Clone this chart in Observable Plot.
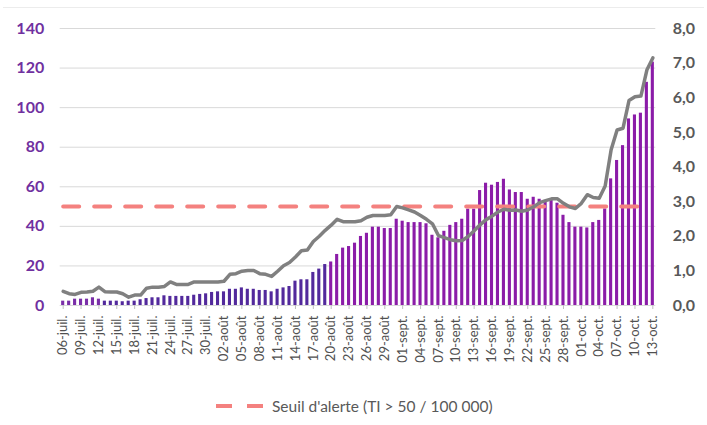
<!DOCTYPE html>
<html><head><meta charset="utf-8">
<script src="https://cdn.jsdelivr.net/npm/d3@7"></script>
<script src="https://cdn.jsdelivr.net/npm/@observablehq/plot@0.6"></script>
<style>
body{margin:0;background:#fff;font-family:Lato,sans-serif}
#wrap{position:relative;width:707px;height:425px;overflow:hidden;background:#fff}
#topline{position:absolute;left:3px;right:3px;top:7px;height:1px;background:#ececec}
#chart{position:absolute;left:0;top:0}
#legend{position:absolute;left:216px;top:396px;height:20px;display:flex;align-items:center;gap:9px;font-family:Lato,sans-serif;font-size:15.5px;color:#595959;white-space:nowrap}
</style></head>
<body><div id="wrap"><div id="topline"></div><div id="chart"></div>
<div id="legend"><svg width="47" height="8"><line x1="0" y1="4" x2="47" y2="4" stroke="#f4817f" stroke-width="4" stroke-dasharray="16,15"/></svg><span>Seuil d'alerte (TI &gt; 50 / 100 000)</span></div>
</div>
<script>
// Categories: one per day, 06-juil. -> 13-oct.
const monthNames = {6: "juil.", 7: "août", 8: "sept.", 9: "oct."};
const days = d3.utcDay.range(new Date(Date.UTC(2020, 6, 6)), new Date(Date.UTC(2020, 9, 14)));
const dayKeys = days.map(d => String(d.getUTCDate()).padStart(2, "0") + "-" + monthNames[d.getUTCMonth()]);

// Shown tick labels (every 3 days)
const tickLabels = ["06-juil.","09-juil.","12-juil.","15-juil.","18-juil.","21-juil.","24-juil.","27-juil.","30-juil.",
  "02-août","05-août","08-août","11-août","14-août","17-août","20-août","23-août","26-août","29-août",
  "01-sept.","04-sept.","07-sept.","10-sept.","13-sept.","16-sept.","19-sept.","22-sept.","25-sept.","28-sept.",
  "01-oct.","04-oct.","07-oct.","10-oct.","13-oct."];

// Bars: incidence rate (left axis)
const incidence = [
  2.2, 2.2, 3.2, 3.2, 3.2, 3.9, 3.2, 2.2, 2.2, 2.2,
  1.9, 2.2, 2.2, 2.9, 3.5, 3.9, 3.9, 4.9, 4.6, 4.6,
  4.6, 4.6, 5.2, 5.6, 5.9, 6.6, 6.9, 6.9, 8.2, 8.2,
  8.9, 8.2, 8.2, 7.6, 7.6, 6.9, 8.2, 8.9, 9.6, 12.3,
  13.0, 13.0, 16.7, 18.4, 20.7, 22.0, 25.8, 29.0, 29.8, 31.5,
  34.9, 36.5, 39.6, 39.6, 38.9, 38.9, 43.6, 42.6, 41.9, 41.9,
  41.9, 41.3, 35.5, 34.2, 37.5, 40.5, 41.9, 43.6, 48.7, 48.7,
  58.1, 61.8, 60.8, 62.2, 63.8, 58.4, 57.1, 57.1, 53.7, 54.7,
  53.7, 53.1, 53.4, 51.7, 45.6, 41.9, 39.6, 39.6, 39.2, 41.9,
  43.0, 48.8, 64.0, 73.3, 80.8, 94.3, 96.3, 97.2, 112.8, 123.0
];

// Line: positivity rate (right axis, 0-8)
const positivity = [
  0.41, 0.34, 0.32, 0.38, 0.39, 0.41, 0.53, 0.40, 0.39, 0.39,
  0.34, 0.24, 0.30, 0.30, 0.50, 0.53, 0.53, 0.55, 0.68, 0.61,
  0.61, 0.61, 0.68, 0.68, 0.68, 0.68, 0.68, 0.70, 0.90, 0.92,
  0.99, 1.01, 1.01, 0.92, 0.90, 0.84, 0.99, 1.15, 1.24, 1.40,
  1.58, 1.60, 1.85, 2.00, 2.17, 2.32, 2.49, 2.42, 2.42, 2.42,
  2.45, 2.55, 2.60, 2.60, 2.60, 2.62, 2.86, 2.82, 2.76, 2.70,
  2.60, 2.49, 2.36, 2.02, 1.96, 1.90, 1.87, 1.88, 1.99, 2.16,
  2.33, 2.48, 2.58, 2.70, 2.78, 2.75, 2.76, 2.72, 2.76, 2.85,
  2.97, 3.03, 3.08, 3.08, 2.95, 2.85, 2.80, 2.95, 3.20, 3.12,
  3.10, 3.45, 4.50, 5.07, 5.12, 5.92, 6.03, 6.05, 6.80, 7.15
];

const threshold = 50;
const thresholdDays = dayKeys.slice(0, 98);
const leftTicks = [0, 20, 40, 60, 80, 100, 120, 140];
const rightTicks = [0, 1, 2, 3, 4, 5, 6, 7, 8];
const RATIO = 140 / 8;

const data = dayKeys.map((day, i) => ({day, i, incidence: incidence[i], positivity: positivity[i]}));
const barColor = i => i < 7 ? "#7a2ea8" : i < 45 ? "#52299c" : "#8b1ca8";

const chart = Plot.plot({
  width: 707, height: 378,
  marginLeft: 59.7, marginRight: 51.7, marginTop: 28, marginBottom: 73,
  style: {fontFamily: "Lato, sans-serif", background: "transparent"},
  x: {type: "band", domain: dayKeys, paddingInner: 0.48, paddingOuter: 0.24, axis: null},
  y: {domain: [0, 140], axis: null},
  marks: [
    Plot.gridY(leftTicks, {stroke: "#d9d9d9", strokeOpacity: 1, strokeWidth: 1}),
    Plot.barY(data, {x: "day", y: "incidence", fill: d => barColor(d.i)}),
    Plot.line(thresholdDays, {x: d => d, y: () => threshold, stroke: "#f4817f", strokeWidth: 4, strokeDasharray: "16,15"}),
    Plot.line(data, {x: "day", y: d => d.positivity * RATIO, stroke: "#808080", strokeWidth: 3.5, strokeLinejoin: "round"}),
    Plot.axisY(leftTicks, {anchor: "left", tickSize: 0, tickPadding: 16, fill: "#70309f", fontWeight: "bold", fontSize: 16, label: null}),
    Plot.axisY(rightTicks.map(v => v * RATIO), {anchor: "right", tickSize: 0, tickPadding: 17, tickFormat: d => (d / RATIO).toFixed(1).replace(".", ","), fill: "#595959", fontWeight: "bold", fontSize: 16, label: null}),
    Plot.axisX(tickLabels, {tickRotate: -90, tickSize: 4, tickPadding: 6, stroke: "#bfbfbf", fill: "#505050", fontSize: 13, label: null})
  ]
});
document.getElementById("chart").appendChild(chart);
</script>
</body></html>
